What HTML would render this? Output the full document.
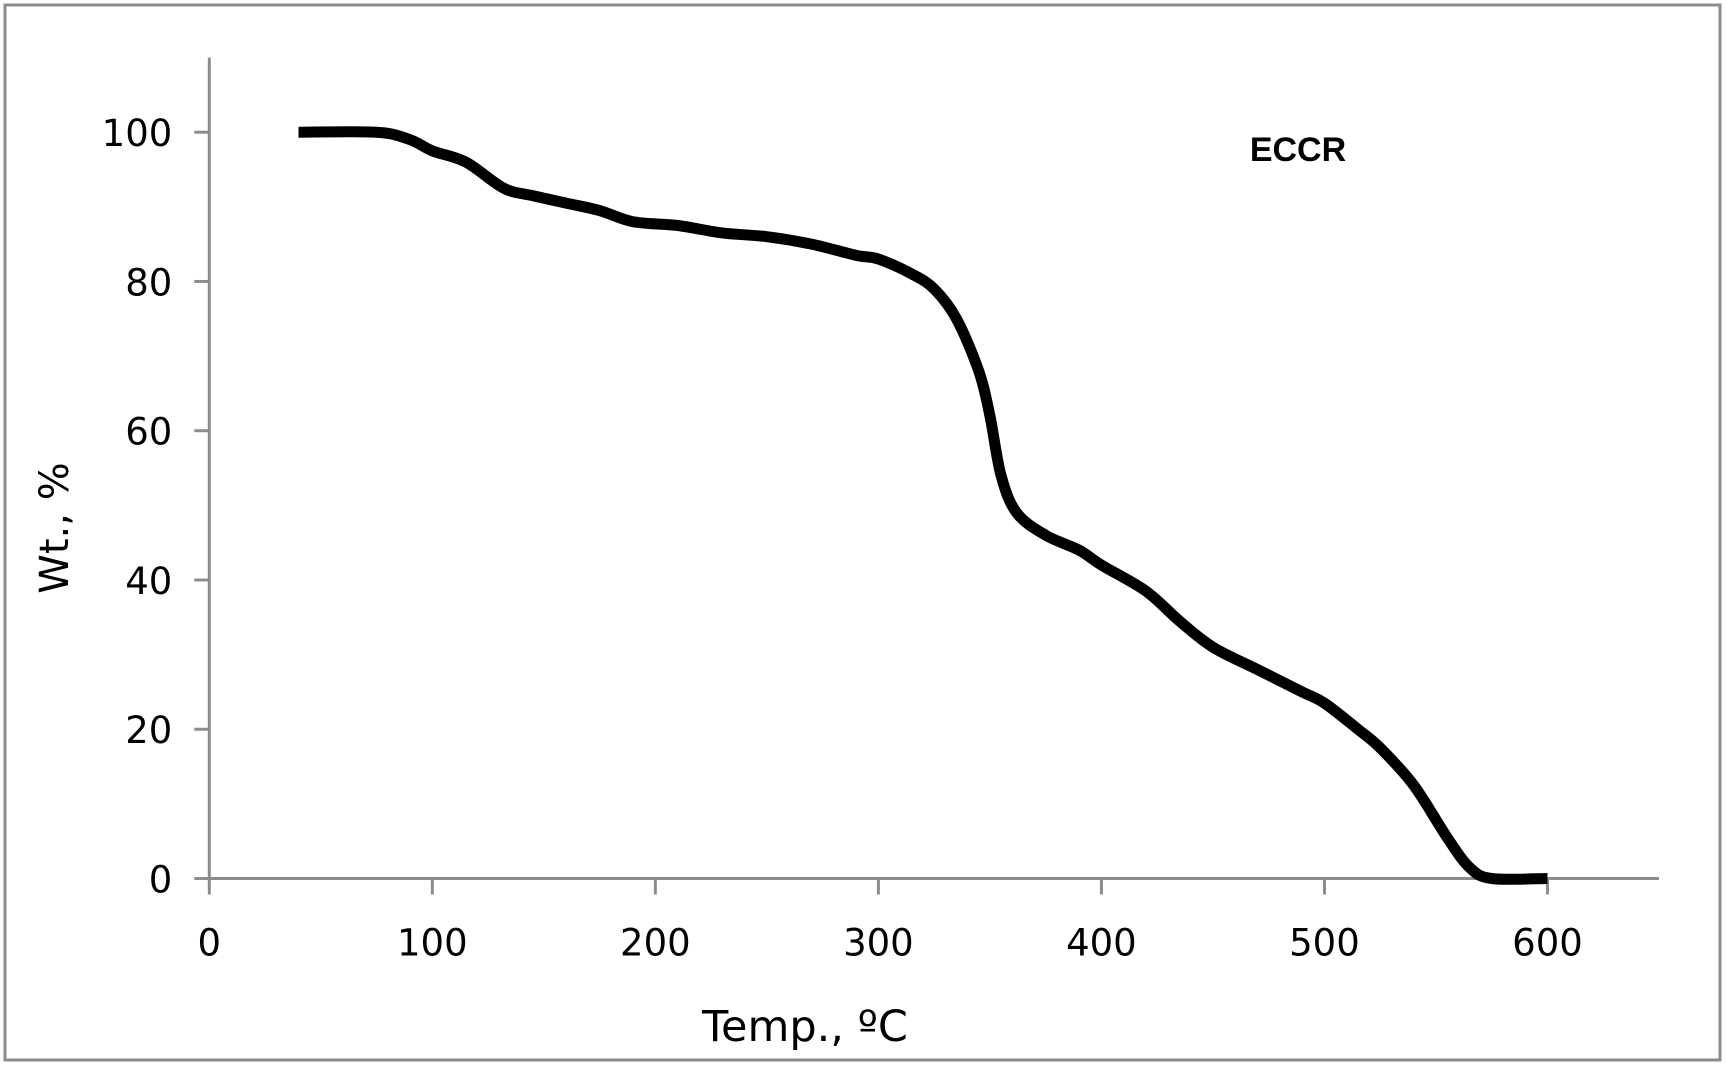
<!DOCTYPE html>
<html><head><meta charset="utf-8"><style>
html,body{margin:0;padding:0;background:#fff;}
svg{display:block;}
text{font-family:"DejaVu Sans","Liberation Sans",sans-serif;fill:#000;}
</style></head><body>
<svg id="chart" width="1727" height="1066" viewBox="0 0 1727 1066">
<rect x="5" y="5" width="1715" height="1055" fill="#fff" stroke="#8c8c8c" stroke-width="3"/>
<g id="axes"></g>
<g id="series"></g>
<text x="1298" y="161" font-size="34" font-weight="bold" text-anchor="middle" style="font-family:'Liberation Sans',sans-serif">ECCR</text>
<text x="805" y="1041" font-size="43" text-anchor="middle" fill="#222">Temp., ºC</text>
<text x="0" y="0" font-size="40" text-anchor="middle" transform="translate(68,528) rotate(-90)">Wt., %</text>
</svg>
<script>
const xTicks=[0,100,200,300,400,500,600];
const yTicks=[0,20,40,60,80,100];
const temps=[40,75,90,100,115,132,145,160,175,190,210,230,250,270,290,300,315,325,335,345,350,355,362,375,390,400,420,435,450,470,490,500,515,525,540,555,565,575,600];
const weights=[100,100,99,97.5,96,92.5,91.5,90.5,89.5,88,87.5,86.5,86,85,83.5,83,81,79,75,68,62,54,49,46,44,42,38.5,34.5,31,28,25,23.5,20,17.5,12.5,5.5,1.5,0,0];
const X0=209.3,XS=2.2303,Y0=878.5,YS=7.463;
const xs=v=>X0+v*XS, ys=v=>Y0-v*YS;
const NS="http://www.w3.org/2000/svg";
const axes=document.getElementById('axes');
function mk(tag,attrs,parent){const e=document.createElementNS(NS,tag);for(const k in attrs)e.setAttribute(k,attrs[k]);parent.appendChild(e);return e;}
const ya=mk('line',{x1:xs(0),y1:ys(110),x2:xs(0),y2:ys(0),stroke:'#8c8c8c','stroke-width':3},axes);


const xa=mk('line',{x1:xs(0),y1:ys(0),x2:xs(650),y2:ys(0),stroke:'#8c8c8c','stroke-width':3},axes);


xTicks.forEach(t=>{
 const l=mk('line',{x1:xs(t),y1:ys(0),x2:xs(t),y2:ys(0)+16,stroke:'#8c8c8c','stroke-width':3},axes);
 
 
 const tx=mk('text',{x:xs(t),y:ys(0)+77,'font-size':37,'text-anchor':'middle'},axes);
 tx.textContent=t;
 
 
});
yTicks.forEach(t=>{
 const l=mk('line',{x1:xs(0)-15,y1:ys(t),x2:xs(0),y2:ys(t),stroke:'#8c8c8c','stroke-width':3},axes);
 
 
 const tx=mk('text',{x:xs(0)-37,y:ys(t)+14,'font-size':37,'text-anchor':'end'},axes);
 tx.textContent=t;
 
 
});
const pts=temps.map((t,i)=>[xs(t),ys(weights[i])]);
let d='M'+pts[0][0]+','+pts[0][1];
for(let i=0;i<pts.length-1;i++){
 const p0=pts[Math.max(i-1,0)],p1=pts[i],p2=pts[i+1],p3=pts[Math.min(i+2,pts.length-1)];
 const c1=[p1[0]+(p2[0]-p0[0])/6,p1[1]+(p2[1]-p0[1])/6];
 const c2=[p2[0]-(p3[0]-p1[0])/6,p2[1]-(p3[1]-p1[1])/6];
 d+=' C'+c1+' '+c2+' '+p2;
}
const path=mk('path',{d:d,fill:'none',stroke:'#000','stroke-width':11,'stroke-linejoin':'round'},document.getElementById('series'));


</script>
</body></html>
